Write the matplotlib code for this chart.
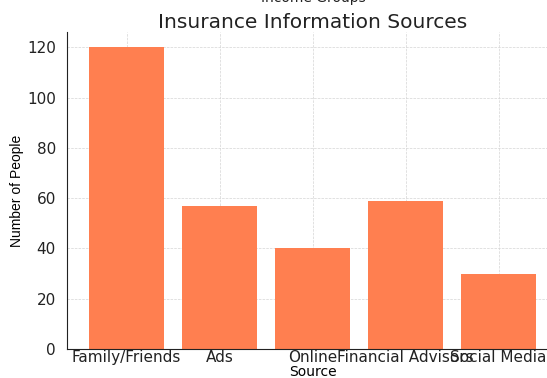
import matplotlib
matplotlib.use('Agg')
import matplotlib.pyplot as plt

sources = ['Family/Friends', 'Ads', 'Online', 'Financial Advisors', 'Social Media']
people = [120, 57, 40, 59, 30]

plt.rcParams['font.family'] = 'DejaVu Sans'

fig = plt.figure(figsize=(5.47, 3.78), dpi=100)
ax = fig.add_axes([0.1225, 0.0767, 0.898, 0.838])

ax.bar(sources, people, color='#FF7F50', width=0.8, zorder=2)
ax.set_ylim(0, 126)
ax.set_yticks([0, 20, 40, 60, 80, 100, 120])
ax.grid(True, linestyle='--', linewidth=0.5, color='#d5d5d5', zorder=0)
ax.spines['top'].set_visible(False)
ax.spines['right'].set_visible(False)
ax.spines['left'].set_color('#222222')
ax.spines['bottom'].set_color('#222222')
ax.tick_params(axis='both', length=0, labelsize=11, colors='#222222')
ax.tick_params(axis='x', pad=1)
ax.tick_params(axis='y', pad=8)

ax.set_title('Insurance Information Sources', fontsize=14.5, color='#222222', pad=3)
ax.set_xlabel('Source', fontsize=10, labelpad=0)
ax.set_ylabel('Number of People', fontsize=10, family='Liberation Sans', labelpad=2)

fig.text(0.572, 0.988, 'Income Groups', ha='center', va='bottom', fontsize=10, color='#222222')

fig.savefig('out.png', dpi=100)
